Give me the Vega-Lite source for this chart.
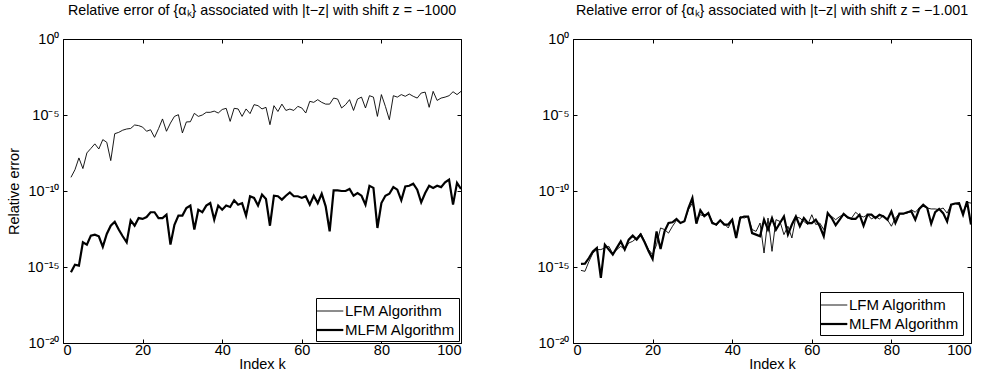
{
  "$schema": "https://vega.github.io/schema/vega-lite/v6.json",
  "background": "white",
  "padding": {"left": 5, "top": 3, "right": 4, "bottom": 0},
  "spacing": 71,
  "config": {
    "font": "Liberation Sans",
    "view": {"stroke": "black", "strokeWidth": 1},
    "axis": {"domain": false, "grid": false, "tickColor": "black", "tickSize": -4, "labelColor": "black", "labelFont": "Liberation Sans", "labelFontSize": 14.5, "titleFont": "Liberation Sans", "titleFontSize": 14.5, "titleFontWeight": "normal", "titleColor": "black"},
    "title": {"font": "Liberation Sans", "fontSize": 14.3, "fontWeight": "normal", "color": "black", "offset": 13},
    "legend": {"orient": "bottom-right", "offset": 2, "strokeColor": "black", "fillColor": "white", "padding": 3, "cornerRadius": 0, "labelFont": "Liberation Sans", "labelFontSize": 15, "labelColor": "black", "symbolType": "M-1.4,0H1.4", "symbolStrokeColor": "black", "symbolFillColor": "transparent", "symbolSize": 361, "rowPadding": 0, "labelOffset": 4, "title": null}
  },
  "datasets": {
    "left": [
      {"k":2,"LFM":7.9e-10,"MLFM":4.5e-16},{"k":3,"LFM":2.5e-9,"MLFM":1.4e-15},{"k":4,"LFM":1.5e-8,"MLFM":1.23e-15},{"k":5,"LFM":3.0e-9,"MLFM":4.2e-14},{"k":6,"LFM":3.2e-8,"MLFM":2.95e-14},{"k":7,"LFM":6.3e-8,"MLFM":1.15e-13},{"k":8,"LFM":1.26e-7,"MLFM":1.35e-13},{"k":9,"LFM":5.8e-8,"MLFM":1.05e-13},{"k":10,"LFM":2.4e-7,"MLFM":2.1e-14},{"k":11,"LFM":1.6e-7,"MLFM":1.5e-13},
      {"k":12,"LFM":1e-8,"MLFM":5.2e-13},{"k":13,"LFM":5.9e-7,"MLFM":9.5e-13},{"k":14,"LFM":7.2e-7,"MLFM":2.9e-13},{"k":15,"LFM":1e-6,"MLFM":1.05e-13},{"k":16,"LFM":1.2e-6,"MLFM":4.2e-14},{"k":17,"LFM":1.3e-6,"MLFM":1.17e-12},{"k":18,"LFM":2.2e-6,"MLFM":5.2e-13},{"k":19,"LFM":2.0e-6,"MLFM":1.66e-12},{"k":20,"LFM":1.6e-6,"MLFM":1.45e-12},{"k":21,"LFM":8.5e-7,"MLFM":1.95e-12},
      {"k":22,"LFM":1.07e-6,"MLFM":4.0e-12},{"k":23,"LFM":3.4e-7,"MLFM":4.0e-12},{"k":24,"LFM":1.26e-6,"MLFM":1.66e-12},{"k":25,"LFM":5.5e-6,"MLFM":1.66e-12},{"k":26,"LFM":8.5e-7,"MLFM":2.75e-12},{"k":27,"LFM":2.95e-6,"MLFM":2.95e-14},{"k":28,"LFM":8.1e-6,"MLFM":6.0e-13},{"k":29,"LFM":1.05e-5,"MLFM":2.4e-12},{"k":30,"LFM":6.6e-7,"MLFM":2.4e-12},{"k":31,"LFM":3.5e-6,"MLFM":7.6e-12},
      {"k":32,"LFM":3.6e-6,"MLFM":1.1e-11},{"k":33,"LFM":1.29e-5,"MLFM":2.9e-13},{"k":34,"LFM":8.1e-6,"MLFM":5.9e-12},{"k":35,"LFM":1e-5,"MLFM":4.0e-12},{"k":36,"LFM":1.5e-5,"MLFM":1.1e-11},{"k":37,"LFM":1.5e-5,"MLFM":1.6e-11},{"k":38,"LFM":1.8e-5,"MLFM":1.3e-12},{"k":39,"LFM":1.35e-5,"MLFM":1.1e-11},{"k":40,"LFM":2.3e-5,"MLFM":5.9e-12},{"k":41,"LFM":2.75e-5,"MLFM":1.1e-11},
      {"k":42,"LFM":3.8e-6,"MLFM":8.9e-12},{"k":43,"LFM":2.75e-5,"MLFM":2.45e-11},{"k":44,"LFM":2.5e-5,"MLFM":1.26e-11},{"k":45,"LFM":8.1e-6,"MLFM":1.6e-11},{"k":46,"LFM":2.5e-5,"MLFM":2.4e-12},{"k":47,"LFM":1.23e-5,"MLFM":4.5e-11},{"k":48,"LFM":4.8e-5,"MLFM":3.5e-11},{"k":49,"LFM":4.1e-5,"MLFM":1.1e-11},{"k":50,"LFM":2.5e-5,"MLFM":5.8e-11},{"k":51,"LFM":3.2e-5,"MLFM":2.95e-11},
      {"k":52,"LFM":2.3e-6,"MLFM":5.2e-13},{"k":53,"LFM":4.1e-5,"MLFM":4.9e-11},{"k":54,"LFM":1.7e-5,"MLFM":4.5e-11},{"k":55,"LFM":5.2e-5,"MLFM":2.7e-11},{"k":56,"LFM":2.0e-5,"MLFM":4.9e-11},{"k":57,"LFM":2.45e-5,"MLFM":8.1e-11},{"k":58,"LFM":2.0e-5,"MLFM":4.5e-11},{"k":59,"LFM":3.7e-5,"MLFM":4.5e-11},{"k":60,"LFM":2.9e-5,"MLFM":3.5e-11},{"k":61,"LFM":1.35e-5,"MLFM":4.5e-11},
      {"k":62,"LFM":7.9e-5,"MLFM":1.26e-11},{"k":63,"LFM":6.8e-5,"MLFM":4.9e-11},{"k":64,"LFM":1.02e-4,"MLFM":1.6e-11},{"k":65,"LFM":6.8e-5,"MLFM":6.6e-11},{"k":66,"LFM":5.2e-5,"MLFM":9.8e-12},{"k":67,"LFM":5.2e-5,"MLFM":2.2e-13},{"k":68,"LFM":1.3e-4,"MLFM":1.1e-10},{"k":69,"LFM":1.12e-4,"MLFM":1.1e-10},{"k":70,"LFM":2.9e-5,"MLFM":1e-10},{"k":71,"LFM":4.8e-5,"MLFM":1e-10},
      {"k":72,"LFM":1.02e-4,"MLFM":1.35e-10},{"k":73,"LFM":2.0e-5,"MLFM":4.9e-11},{"k":74,"LFM":1.12e-4,"MLFM":7.4e-11},{"k":75,"LFM":1.5e-4,"MLFM":4.9e-11},{"k":76,"LFM":2.9e-5,"MLFM":1.26e-11},{"k":77,"LFM":1.86e-4,"MLFM":2.2e-10},{"k":78,"LFM":1.5e-4,"MLFM":1.6e-10},{"k":79,"LFM":8.1e-6,"MLFM":3.7e-13},{"k":80,"LFM":2.2e-4,"MLFM":1.6e-11},{"k":81,"LFM":3.7e-5,"MLFM":4.9e-11},
      {"k":82,"LFM":4.9e-6,"MLFM":6.6e-11},{"k":83,"LFM":1.86e-4,"MLFM":1.8e-10},{"k":84,"LFM":1.5e-4,"MLFM":1.23e-10},{"k":85,"LFM":2.2e-4,"MLFM":2.45e-11},{"k":86,"LFM":1.7e-4,"MLFM":2.0e-10},{"k":87,"LFM":2.4e-4,"MLFM":2.2e-10},{"k":88,"LFM":1.7e-4,"MLFM":3.0e-10},{"k":89,"LFM":1.3e-4,"MLFM":1.23e-10},{"k":90,"LFM":2.8e-4,"MLFM":1.8e-11},{"k":91,"LFM":3.2e-4,"MLFM":7.4e-11},
      {"k":92,"LFM":3.2e-5,"MLFM":2.2e-10},{"k":93,"LFM":3.6e-4,"MLFM":1.6e-10},{"k":94,"LFM":9.1e-5,"MLFM":2.2e-10},{"k":95,"LFM":1.3e-4,"MLFM":1.8e-10},{"k":96,"LFM":1.5e-4,"MLFM":3.7e-10},{"k":97,"LFM":1.86e-4,"MLFM":5.6e-10},{"k":98,"LFM":3.4e-4,"MLFM":1.26e-11},{"k":99,"LFM":2.2e-4,"MLFM":3.4e-10},{"k":100,"LFM":3.6e-4,"MLFM":1.35e-10}
    ],
    "right": [
      {"k":2,"LFM":6.0e-16,"MLFM":1.6e-15},{"k":3,"LFM":5.2e-16,"MLFM":1.66e-15},{"k":4,"LFM":2.3e-15,"MLFM":3.9e-15},{"k":5,"LFM":8.3e-15,"MLFM":1.07e-14},{"k":6,"LFM":1.4e-14,"MLFM":1.8e-14},{"k":7,"LFM":1.4e-14,"MLFM":1.9e-16},{"k":8,"LFM":1.8e-14,"MLFM":2.95e-14},{"k":9,"LFM":2.3e-14,"MLFM":1.4e-14},{"k":10,"LFM":7.6e-15,"MLFM":6.6e-15},{"k":11,"LFM":1.4e-14,"MLFM":1.8e-14},
      {"k":12,"LFM":2.3e-14,"MLFM":4.9e-14},{"k":13,"LFM":1.4e-14,"MLFM":1.4e-14},{"k":14,"LFM":3.8e-14,"MLFM":6.3e-14},{"k":15,"LFM":4.9e-14,"MLFM":1.15e-13},{"k":16,"LFM":8.1e-14,"MLFM":6.3e-14},{"k":17,"LFM":1.7e-13,"MLFM":1.35e-13},{"k":18,"LFM":4.9e-14,"MLFM":4.2e-14},{"k":19,"LFM":1.4e-14,"MLFM":1.07e-14},{"k":20,"LFM":6.6e-15,"MLFM":3.4e-15},{"k":21,"LFM":2.95e-14,"MLFM":2.2e-13},
      {"k":22,"LFM":3.7e-13,"MLFM":1.5e-14},{"k":23,"LFM":2.9e-13,"MLFM":2.2e-13},{"k":24,"LFM":1.7e-13,"MLFM":7.9e-13},{"k":25,"LFM":4.8e-13,"MLFM":8.7e-13},{"k":26,"LFM":1.17e-12,"MLFM":1.45e-12},{"k":27,"LFM":7.9e-13,"MLFM":7.9e-13},{"k":28,"LFM":1.02e-12,"MLFM":1.02e-12},{"k":29,"LFM":5.9e-12,"MLFM":7.6e-12},{"k":30,"LFM":1.6e-11,"MLFM":3.5e-11},{"k":31,"LFM":1.3e-12,"MLFM":7.1e-13},
      {"k":32,"LFM":2.75e-12,"MLFM":5.4e-12},{"k":33,"LFM":2.2e-12,"MLFM":2.2e-12},{"k":34,"LFM":3.5e-12,"MLFM":3.5e-12},{"k":35,"LFM":1e-12,"MLFM":7.8e-13},{"k":36,"LFM":5.2e-13,"MLFM":6.2e-13},{"k":37,"LFM":1.17e-12,"MLFM":1.17e-12},{"k":38,"LFM":7.1e-13,"MLFM":6.2e-13},{"k":39,"LFM":3.7e-13,"MLFM":6.2e-13},{"k":40,"LFM":1.3e-12,"MLFM":1.3e-12},{"k":41,"LFM":1.05e-13,"MLFM":8.1e-14},
      {"k":42,"LFM":2.1e-12,"MLFM":1.66e-12},{"k":43,"LFM":1.66e-12,"MLFM":2.1e-12},{"k":44,"LFM":2.1e-12,"MLFM":2.1e-12},{"k":45,"LFM":2.9e-13,"MLFM":1.7e-13},{"k":46,"LFM":2.2e-13,"MLFM":1.35e-13},{"k":47,"LFM":7.8e-13,"MLFM":1.05e-13},{"k":48,"LFM":8.3e-15,"MLFM":1.3e-12},{"k":49,"LFM":1.66e-12,"MLFM":2.9e-13},{"k":50,"LFM":1.07e-14,"MLFM":1.66e-12},{"k":51,"LFM":1.3e-12,"MLFM":2.9e-13},
      {"k":52,"LFM":1e-12,"MLFM":7.8e-13},{"k":53,"LFM":1.35e-13,"MLFM":2.1e-12},{"k":54,"LFM":4.8e-13,"MLFM":1.35e-13},{"k":55,"LFM":8.1e-14,"MLFM":6.2e-13},{"k":56,"LFM":1.95e-12,"MLFM":2.1e-12},{"k":57,"LFM":1.66e-12,"MLFM":4.8e-13},{"k":58,"LFM":1e-12,"MLFM":1.66e-12},{"k":59,"LFM":6.2e-13,"MLFM":7.8e-13},{"k":60,"LFM":2.75e-12,"MLFM":7.8e-13},{"k":61,"LFM":6.2e-13,"MLFM":1.3e-12},
      {"k":62,"LFM":7.8e-13,"MLFM":4.8e-13},{"k":63,"LFM":2.9e-13,"MLFM":1.05e-13},{"k":64,"LFM":2.75e-12,"MLFM":3.5e-12},{"k":65,"LFM":2.1e-12,"MLFM":1.66e-12},{"k":66,"LFM":1.3e-12,"MLFM":5.6e-13},{"k":67,"LFM":2.1e-12,"MLFM":1.3e-12},{"k":68,"LFM":2.75e-12,"MLFM":3.1e-12},{"k":69,"LFM":1.66e-12,"MLFM":1.86e-12},{"k":70,"LFM":1.66e-12,"MLFM":1.45e-12},{"k":71,"LFM":4.0e-12,"MLFM":1.45e-12},
      {"k":72,"LFM":2.4e-12,"MLFM":2.75e-12},{"k":73,"LFM":1.95e-12,"MLFM":5.2e-13},{"k":74,"LFM":2.75e-12,"MLFM":2.75e-12},{"k":75,"LFM":1.45e-12,"MLFM":2.75e-12},{"k":76,"LFM":2.1e-12,"MLFM":1.66e-12},{"k":77,"LFM":1.45e-12,"MLFM":2.75e-12},{"k":78,"LFM":2.4e-12,"MLFM":2.1e-12},{"k":79,"LFM":1.3e-12,"MLFM":1.3e-12},{"k":80,"LFM":4.8e-13,"MLFM":4.6e-12},{"k":81,"LFM":1.66e-12,"MLFM":7.8e-13},
      {"k":82,"LFM":3.2e-12,"MLFM":3.2e-12},{"k":83,"LFM":3.2e-12,"MLFM":3.2e-12},{"k":84,"LFM":3.5e-12,"MLFM":4.0e-12},{"k":85,"LFM":5.9e-12,"MLFM":4.6e-12},{"k":86,"LFM":4.0e-12,"MLFM":1.3e-12},{"k":87,"LFM":7.6e-12,"MLFM":6.6e-12},{"k":88,"LFM":9.8e-12,"MLFM":1.26e-11},{"k":89,"LFM":7.6e-12,"MLFM":7.6e-12},{"k":90,"LFM":6.6e-12,"MLFM":7.1e-13},{"k":91,"LFM":6.6e-12,"MLFM":4.0e-12},
      {"k":92,"LFM":5.9e-12,"MLFM":6.6e-12},{"k":93,"LFM":7.6e-12,"MLFM":3.5e-12},{"k":94,"LFM":3.5e-12,"MLFM":1e-12},{"k":95,"LFM":1.26e-11,"MLFM":1.26e-11},{"k":96,"LFM":1.5e-11,"MLFM":1.5e-11},{"k":97,"LFM":1.26e-11,"MLFM":1.6e-11},{"k":98,"LFM":4.0e-12,"MLFM":2.75e-12},{"k":99,"LFM":1.8e-11,"MLFM":2.1e-11},{"k":100,"LFM":1.6e-11,"MLFM":6.2e-13}
    ]
  },
  "hconcat": [
    {
      "width": 398, "height": 304,
      "title": {"text": "Relative error of {αₖ} associated with |t−z| with shift z = −1000"},
      "data": {"name": "left"},
      "transform": [{"fold": ["LFM", "MLFM"], "as": ["alg", "err"]}],
      "layer": [
        {
          "mark": {"type": "line", "color": "black", "clip": true},
          "encoding": {
            "x": {"field": "k", "type": "quantitative", "scale": {"domain": [0, 100], "nice": false}, "axis": {"values": [0, 20, 40, 60, 80, 100], "title": "Index k", "labelPadding": 4, "titlePadding": 1}},
            "y": {"field": "err", "type": "quantitative", "scale": {"type": "log", "domain": [1e-20, 1], "nice": false}, "axis": {"values": [1e-20, 1e-15, 1e-10, 1e-5, 1], "title": "Relative error", "labelPadding": 8, "titlePadding": 6, "labelExpr": "'10' + replace(replace(replace(replace(replace('' + round(log(datum.value)/LN10), '-', '⁻'), '0', '⁰'), '1', '¹'), '2', '²'), '5', '⁵')"}},
            "strokeWidth": {"field": "alg", "type": "nominal", "scale": {"domain": ["LFM", "MLFM"], "range": [0.9, 2.2]}, "legend": {"offset": 2, "labelExpr": "datum.label + ' Algorithm'"}}
          }
        },
        {
          "mark": {"type": "point", "opacity": 0},
          "encoding": {
            "x": {"field": "k", "type": "quantitative", "scale": {"domain": [0, 100], "nice": false}, "axis": {"orient": "top", "values": [0, 20, 40, 60, 80, 100], "labels": false, "title": null}},
            "y": {"field": "err", "type": "quantitative", "scale": {"type": "log", "domain": [1e-20, 1], "nice": false}, "axis": {"orient": "right", "values": [1e-20, 1e-15, 1e-10, 1e-5, 1], "labels": false, "title": null}}
          }
        }
      ],
      "resolve": {"axis": {"x": "independent", "y": "independent"}}
    },
    {
      "width": 398, "height": 304,
      "title": {"text": "Relative error of {αₖ} associated with |t−z| with shift z = −1.001"},
      "data": {"name": "right"},
      "transform": [{"fold": ["LFM", "MLFM"], "as": ["alg", "err"]}],
      "layer": [
        {
          "mark": {"type": "line", "color": "black", "clip": true},
          "encoding": {
            "x": {"field": "k", "type": "quantitative", "scale": {"domain": [0, 100], "nice": false}, "axis": {"values": [0, 20, 40, 60, 80, 100], "title": "Index k", "labelPadding": 4, "titlePadding": 1}},
            "y": {"field": "err", "type": "quantitative", "scale": {"type": "log", "domain": [1e-20, 1], "nice": false}, "axis": {"values": [1e-20, 1e-15, 1e-10, 1e-5, 1], "title": null, "labelPadding": 8, "labelExpr": "'10' + replace(replace(replace(replace(replace('' + round(log(datum.value)/LN10), '-', '⁻'), '0', '⁰'), '1', '¹'), '2', '²'), '5', '⁵')"}},
            "strokeWidth": {"field": "alg", "type": "nominal", "scale": {"domain": ["LFM", "MLFM"], "range": [0.9, 2.2]}, "legend": {"offset": 8, "labelExpr": "datum.label + ' Algorithm'"}}
          }
        },
        {
          "mark": {"type": "point", "opacity": 0},
          "encoding": {
            "x": {"field": "k", "type": "quantitative", "scale": {"domain": [0, 100], "nice": false}, "axis": {"orient": "top", "values": [0, 20, 40, 60, 80, 100], "labels": false, "title": null}},
            "y": {"field": "err", "type": "quantitative", "scale": {"type": "log", "domain": [1e-20, 1], "nice": false}, "axis": {"orient": "right", "values": [1e-20, 1e-15, 1e-10, 1e-5, 1], "labels": false, "title": null}}
          }
        }
      ],
      "resolve": {"axis": {"x": "independent", "y": "independent"}}
    }
  ],
  "resolve": {"scale": {"strokeWidth": "independent"}, "legend": {"strokeWidth": "independent"}}
}
